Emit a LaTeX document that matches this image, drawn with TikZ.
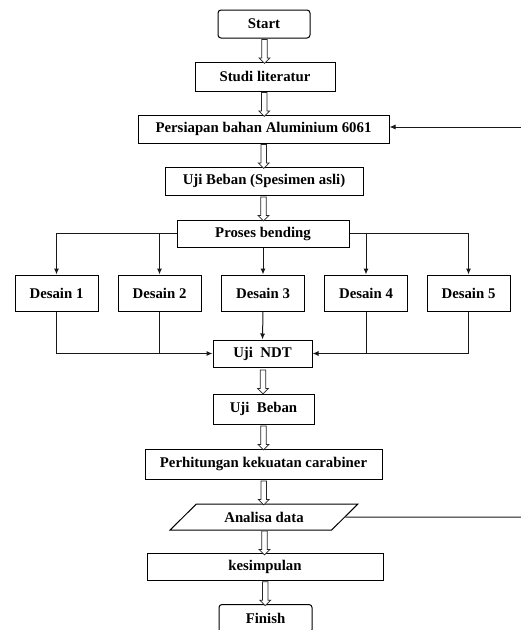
\documentclass[tikz,border=0pt]{standalone}
\usepackage{fontspec}
\setmainfont{Liberation Serif}
\usetikzlibrary{shapes.geometric,shapes.arrows,arrows.meta}
\begin{document}
\begin{tikzpicture}[x=1pt,y=-1pt,
  font=\fontsize{14.8}{16}\selectfont\bfseries,
  box/.style={draw=black,line width=1pt,inner sep=0pt,fill=white},
  term/.style={box,rounded corners=3pt},
  hol/.style={single arrow,draw=black!85,line width=0.8pt,fill=white,shape border rotate=270,
    inner sep=2.4pt,single arrow head extend=2.6pt,minimum height=24pt,single arrow head indent=0pt},
  con/.style={draw=black!90,line width=1pt},
  arr/.style={con,-{Latex[length=6pt,width=5pt]}}]
\useasboundingbox (0,0) rectangle (521,630);
\clip (0,0) rectangle (521,630);
\node[term,minimum width=92pt,minimum height=28pt] (start) at (264,24) {Start};
\node[box,minimum width=140pt,minimum height=29pt] (studi) at (265,76.5) {Studi literatur};
\node[box,minimum width=251pt,minimum height=28pt] (pers) at (263.5,129) {Persiapan bahan Aluminium 6061};
\node[box,minimum width=198pt,minimum height=28pt] (uba) at (264,181) {Uji Beban (Spesimen asli)};
\node[box,minimum width=172pt,minimum height=27pt] (bend) at (263,233.5) {Proses bending};
\foreach \i/\x in {1/56.5,2/159.5,3/263,4/366,5/468.5}
  \node[box,minimum width=83pt,minimum height=36pt] (d\i) at (\x,293) {Desain \i};
\node[box,minimum width=99pt,minimum height=27pt] (ndt) at (262.5,353.5) {Uji\ \ NDT};
\node[box,minimum width=101pt,minimum height=30pt] (ub) at (263.5,409) {Uji\ \ Beban};
\node[box,minimum width=237pt,minimum height=30pt] (hit) at (263.5,464) {Perhitungan kekuatan carabiner};
\node[box,trapezium,trapezium left angle=34,trapezium right angle=146,trapezium stretches=true,
  minimum width=188pt,minimum height=26pt] (an) at (264,517) {Analisa data};
\node[box,minimum width=236pt,minimum height=27pt] (kes) at (265,566.5) {kesimpulan};
\node[term,minimum width=93pt,minimum height=28pt,anchor=north] (fin) at (265.5,604) {Finish};
% hollow arrows
\foreach \a/\b in {start/studi,studi/pers,pers/uba,uba/bend,ndt/ub,ub/hit,hit/an,an/kes,kes/fin}
  \path (\a.south) -- (\b.north) node[midway,hol] {};
% feedback
\coordinate (fb1) at (521,517);
\coordinate (fb2) at (521,127);
\draw[con] (an.east) -- (fb1);
\draw[arr] (fb2) -- (pers.east |- fb2);
% branches
\draw[arr] (bend.west) -| (d1.north);
\draw[arr] (bend.west -| d2.north) -- (d2.north);
\draw[arr] (bend.south) -- (d3.north);
\draw[arr] (bend.east) -| (d5.north);
\draw[arr] (bend.east -| d4.north) -- (d4.north);
\draw[arr] (d1.south) |- (ndt.west);
\draw[con] (d2.south) -- (d2.south |- ndt.west);
\draw[arr] (d3.south) -- (ndt.north);
\draw[arr] (d5.south) |- (ndt.east);
\draw[con] (d4.south) -- (d4.south |- ndt.east);
\end{tikzpicture}
\end{document}
